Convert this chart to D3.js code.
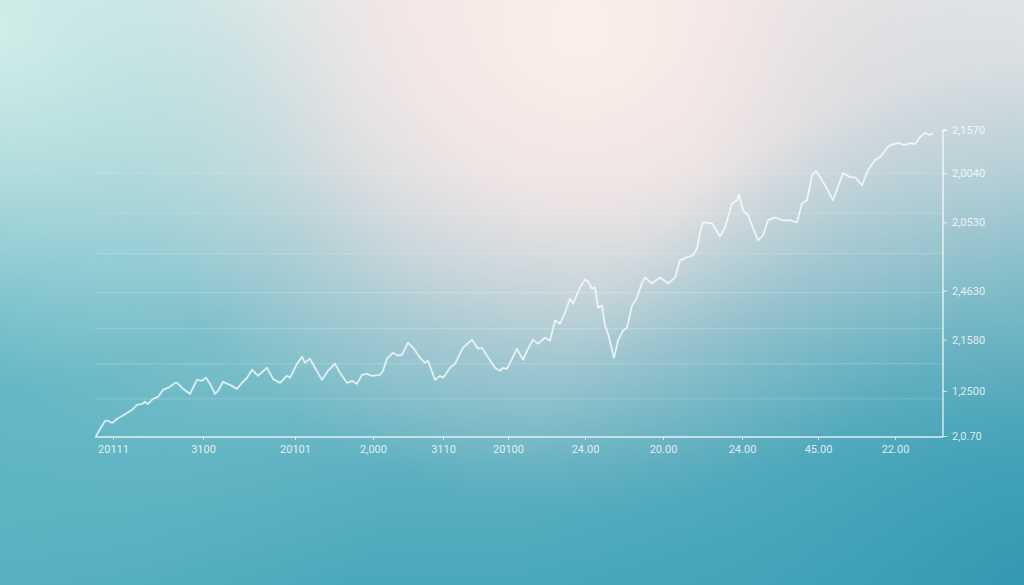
<!DOCTYPE html>
<html>
<head>
<meta charset="utf-8">
<script src="https://cdn.jsdelivr.net/npm/d3@7/dist/d3.min.js"></script>
<style>
  html, body { margin: 0; padding: 0; background: #9fcbd2; }
  svg { display: block; }
</style>
</head>
<body>
<svg id="chart" width="1024" height="585"></svg>
<script>
// ---- data ----
const days = [
  1, 10, 13, 17, 22, 27, 32, 37, 42, 47,
  50, 53, 58, 63, 68, 75, 80, 82, 88, 95,
  102, 107, 111, 115, 120, 123, 128, 135, 142, 147,
  152, 157, 163, 172, 178, 185, 192, 195, 202, 207,
  210, 215, 220, 227, 233, 240, 245, 252, 257, 262,
  267, 272, 277, 285, 288, 292, 298, 303, 307, 313,
  318, 325, 330, 333, 340, 345, 348, 355, 360, 368,
  377, 383, 387, 392, 400, 405, 408, 412, 422, 428,
  432, 438, 443, 450, 455, 460, 465, 470, 475, 478,
  485, 490, 493, 497, 500, 503, 507, 510, 513, 519,
  523, 528, 532, 537, 542, 547, 550, 557, 565, 573,
  580, 585, 592, 598, 602, 605, 608, 617, 625, 630,
  637, 642, 644, 648, 653, 663, 668, 673, 680, 688,
  695, 702, 707, 712, 717, 721, 725, 730, 738, 748,
  755, 760, 767, 773, 780, 785, 792, 795, 803, 810,
  815, 820, 825, 830, 835, 838
];
const values = [
  0, 15, 15, 13, 17, 20, 23, 26, 31, 32,
  34, 32, 37, 39, 46, 49, 53, 53, 47, 42,
  56, 55, 58, 52, 42, 45, 54, 51, 47, 53,
  58, 66, 60, 68, 57, 53, 60, 58, 72, 79,
  73, 77, 68, 56, 65, 72, 63, 53, 55, 52,
  61, 62, 60, 61, 65, 77, 83, 80, 81, 93,
  88, 78, 73, 75, 56, 60, 58, 68, 72, 88,
  96, 87, 88, 80, 68, 65, 68, 67, 87, 76,
  85, 96, 92, 98, 95, 115, 112, 123, 137, 132,
  148, 156, 154, 147, 148, 128, 130, 110, 102, 78,
  95, 105, 108, 130, 138, 153, 158, 152, 158, 152,
  158, 175, 178, 180, 187, 203, 213, 212, 199, 208,
  232, 235, 241, 225, 220, 195, 200, 215, 218, 215,
  215, 213, 232, 235, 260, 264, 258, 250, 235, 262,
  258, 258, 250, 265, 275, 278, 287, 290, 292, 290,
  292, 291, 298, 302, 300, 302
];
const xTickDays   = [18, 108, 200, 278, 348, 413, 490, 568, 647, 723, 800];
const xTickLabels = ["20111", "3100", "20101", "2,000", "3110", "20100", "24.00", "20.00", "24.00", "45.00", "22.00"];
const yTickValues = [305, 262, 213, 145, 96, 45, 0];
const yTickLabels = ["2,1570", "2,0040", "2,0530", "2,4630", "2,1580", "1,2500", "2,0.70"];
const gridValues  = [262, 222, 182, 143, 107, 72, 37];

// ---- layout ----
const W = 1024, H = 585;
const plot = { left: 95, right: 943, top: 130, bottom: 436 };
const svg = d3.select("#chart");
const defs = svg.append("defs");

function linear(id, x1, y1, x2, y2, stops) {
  const g = defs.append("linearGradient").attr("id", id)
    .attr("gradientUnits", "userSpaceOnUse")
    .attr("x1", x1).attr("y1", y1).attr("x2", x2).attr("y2", y2);
  stops.forEach(s => g.append("stop").attr("offset", s[0]).attr("stop-color", s[1]).attr("stop-opacity", s[2] ?? 1));
}
function radial(id, cx, cy, r, stops) {
  const g = defs.append("radialGradient").attr("id", id)
    .attr("gradientUnits", "userSpaceOnUse")
    .attr("cx", cx).attr("cy", cy).attr("r", r);
  stops.forEach(s => g.append("stop").attr("offset", s[0]).attr("stop-color", s[1]).attr("stop-opacity", s[2]));
}

linear("bgBase", 0, 0, 0, H, [
  [0, "#e2eeec"], [0.28, "#c9dfe0"], [0.55, "#8fc5ce"], [0.8, "#5cb0c1"], [1, "#4ba8bb"]
]);
radial("pink", 580, 30, 480, [
  [0, "#fdefea", 1], [0.35, "#f8e7e6", 0.8], [0.7, "#e8d9de", 0.3], [1, "#e6d8dc", 0]
]);
radial("mint", 0, 30, 360, [
  [0, "#d0eee9", 0.95], [0.6, "#c2e5e3", 0.4], [1, "#c2e5e3", 0]
]);
radial("tealLeft", -40, 340, 460, [
  [0, "#5ab4c3", 0.85], [0.6, "#6bbcc8", 0.35], [1, "#6bbcc8", 0]
]);
radial("tealBR", 1060, 620, 560, [
  [0, "#2a93ad", 0.85], [0.6, "#3a9db4", 0.35], [1, "#3a9db4", 0]
]);
radial("greyR", 1000, 100, 320, [
  [0, "#d9d5dc", 0.5], [1, "#d9d5dc", 0]
]);

svg.append("rect").attr("width", W).attr("height", H).attr("fill", "url(#bgBase)");
svg.append("rect").attr("width", W).attr("height", H).attr("fill", "url(#tealLeft)");
svg.append("rect").attr("width", W).attr("height", H).attr("fill", "url(#pink)");
svg.append("rect").attr("width", W).attr("height", H).attr("fill", "url(#mint)");
svg.append("rect").attr("width", W).attr("height", H).attr("fill", "url(#greyR)");
svg.append("rect").attr("width", W).attr("height", H).attr("fill", "url(#tealBR)");

// ---- scales ----
const x = d3.scaleLinear().domain([0, 840]).range([plot.left, plot.left + 840]);
const y = d3.scaleLinear().domain([0, 305]).range([plot.bottom, plot.top]);

const labelColor = "rgba(255,255,255,0.82)";
const font = "Roboto, 'DejaVu Sans', sans-serif";

// grid
svg.append("g").selectAll("line").data(gridValues).join("line")
  .attr("x1", plot.left).attr("x2", plot.right)
  .attr("y1", d => y(d)).attr("y2", d => y(d))
  .attr("stroke", "rgba(255,255,255,0.2)").attr("stroke-width", 1);

// x axis
const xAxis = d3.axisBottom(x)
  .tickValues(xTickDays)
  .tickSize(3)
  .tickPadding(5)
  .tickFormat((d, i) => xTickLabels[i]);
const gx = svg.append("g").attr("transform", `translate(0,${plot.bottom + 1})`).call(xAxis);
gx.select(".domain").remove();
gx.append("line").attr("x1", plot.left).attr("x2", plot.right).attr("y1", 0).attr("y2", 0)
  .attr("stroke", "rgba(255,255,255,0.8)").attr("stroke-width", 1.4);
gx.selectAll(".tick line").attr("stroke", "rgba(255,255,255,0.75)");
gx.selectAll(".tick text").attr("fill", labelColor).attr("font-family", font).attr("font-size", 11);

// y axis (right)
const yAxis = d3.axisRight(y)
  .tickValues(yTickValues)
  .tickSize(4)
  .tickPadding(5)
  .tickFormat((d, i) => yTickLabels[i]);
const gy = svg.append("g").attr("transform", `translate(${plot.right},0)`).call(yAxis);
gy.select(".domain").attr("stroke", "rgba(255,255,255,0.8)").attr("stroke-width", 1.4)
  .attr("d", `M4,${plot.top}H0V${plot.bottom + 1}`);
gy.selectAll(".tick line").attr("stroke", "rgba(255,255,255,0.75)");
gy.selectAll(".tick text").attr("fill", labelColor).attr("font-family", font).attr("font-size", 11);

// line
const pts = days.map((d, i) => [d, values[i]]);
const line = d3.line().x(d => x(d[0])).y(d => y(d[1])).curve(d3.curveLinear);
svg.append("path").datum(pts)
  .attr("d", line).attr("fill", "none")
  .attr("stroke", "rgba(255,255,255,0.18)").attr("stroke-width", 3)
  .attr("stroke-linejoin", "round");
svg.append("path").datum(pts)
  .attr("d", line).attr("fill", "none")
  .attr("stroke", "rgba(255,255,255,0.82)").attr("stroke-width", 1.3)
  .attr("stroke-linejoin", "round");
</script>
</body>
</html>
